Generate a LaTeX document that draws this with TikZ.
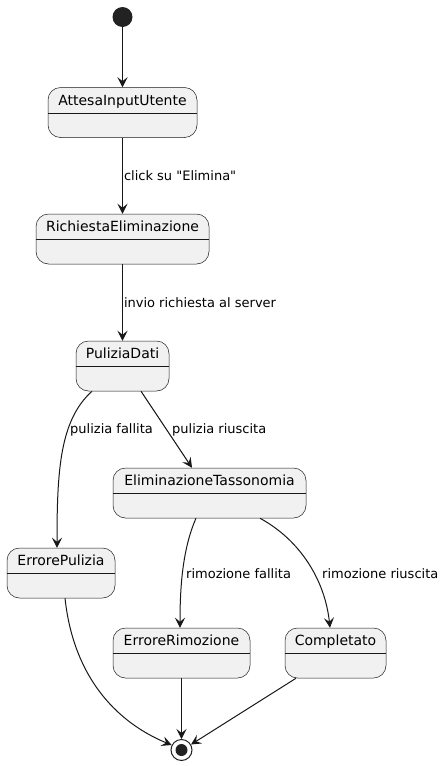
\documentclass[tikz,border=0pt]{standalone}
\usepackage{fontspec}
\setmainfont{DejaVu Sans}
\newfontfamily\plainq{DejaVu Sans}
\usetikzlibrary{arrows.meta}
\definecolor{stfill}{HTML}{F1F1F1}
\definecolor{stline}{HTML}{181818}
\definecolor{dot}{HTML}{222222}
\begin{document}
\begin{tikzpicture}[x=1pt,y=-1pt,
  state/.style={draw=stline, line width=0.5pt, fill=stfill, rounded corners=12.5pt,
    minimum height=50pt, inner sep=0pt, text height=10pt, text depth=25pt,
    font=\fontsize{14}{16}\selectfont},
  divider/.style={draw=stline, line width=0.5pt},
  conn/.style={draw=stline, line width=1pt, -{Stealth[length=10pt,width=10pt,inset=4pt]}},
  lbl/.style={inner sep=0pt, anchor=west, font=\fontsize{13}{15}\selectfont}]
\useasboundingbox (0,0) rectangle (445,766);

% start / end
\node[circle, fill=dot, minimum size=20pt, inner sep=0pt] (S) at (122.5,17) {};
\node[circle, draw=dot, line width=1pt, fill=white, minimum size=21pt, inner sep=0pt] (E) at (181.5,750) {};
\fill[dot] (E.center) circle (6pt);

% states
\node[state, minimum width=149pt] (A) at (122.5,112.5) {AttesaInputUtente};
\node[state, minimum width=173pt] (R) at (122.5,239) {RichiestaEliminazione};
\node[state, minimum width=93pt]  (P) at (122.5,366) {PuliziaDati};
\node[state, minimum width=193pt] (T) at (209.5,493) {EliminazioneTassonomia};
\node[state, minimum width=108pt] (EP) at (61,573) {ErrorePulizia};
\node[state, minimum width=137pt] (ER) at (181.5,653) {ErroreRimozione};
\node[state, minimum width=101pt] (C) at (335.5,653) {Completato};

\foreach \n in {A,R,P,T,EP,ER,C}{
  \draw[divider] ([yshift=-25.5pt]\n.north west) -- ([yshift=-25.5pt]\n.north east);
}

% connectors
\draw[conn] (S) -- (A);
\draw[conn] (A) -- node[lbl, xshift=1pt] {\plainq click su "Elimina"} (R);
\draw[conn] (R) -- node[lbl, xshift=1pt] {invio richiesta al server} (P);
\draw[conn] ([xshift=-30.5pt]P.south) .. controls (60,420) and (57,470) .. ([xshift=-4pt]EP.north);
\draw[conn] ([xshift=18.5pt]P.south) -- ([xshift=-17.5pt]T.north);
\draw[conn] ([xshift=-13.5pt]T.south) .. controls (182,550) and (180,590) .. ([xshift=-1.5pt]ER.north);
\draw[conn] ([xshift=50.5pt]T.south) .. controls (300,540) and (325,580) .. ([xshift=-5.5pt]C.north);
\draw[conn] ([xshift=4pt]EP.south) .. controls (75,690) and (130,728) .. (E.153);
\draw[conn] (ER) -- (E);
\draw[conn] ([xshift=-39.5pt]C.south) -- (E.30);

% labels on curved connectors
\node[lbl] (l3) at (70,430) {pulizia fallita};
\node[lbl] (l4) at (172,430) {pulizia riuscita};
\node[lbl] (l5) at (186,574) {rimozione fallita};
\node[lbl] (l6) at (322,574) {rimozione riuscita};
\end{tikzpicture}
\end{document}
